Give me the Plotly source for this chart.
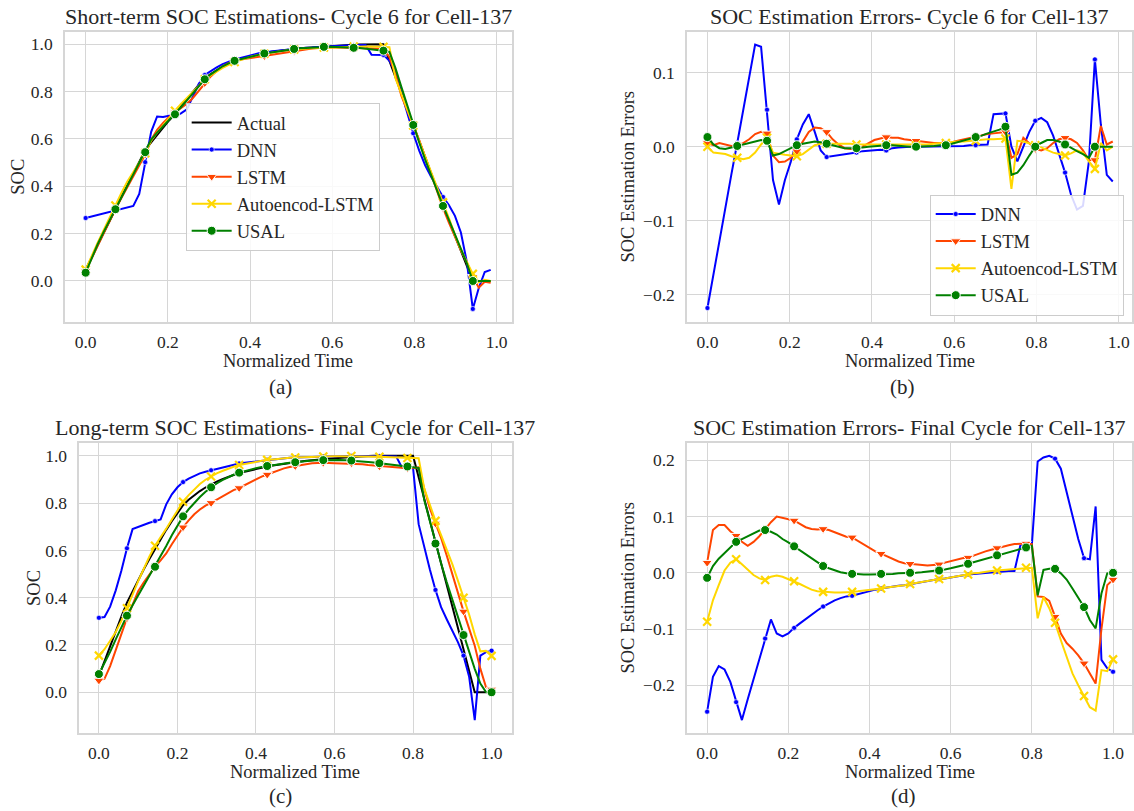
import numpy as np
import plotly.graph_objects as go

# ---------------- Cycle 6, Cell-137 (69 samples) ----------------
soc_actual_c6 = [
    0.048, 0.100, 0.152, 0.203, 0.254, 0.304, 0.355, 0.405, 0.455, 0.503,
    0.552, 0.585, 0.617, 0.648, 0.678, 0.706, 0.738, 0.769, 0.799, 0.828,
    0.856, 0.874, 0.890, 0.905, 0.917, 0.928, 0.936, 0.944, 0.951, 0.957,
    0.963, 0.967, 0.971, 0.974, 0.977, 0.980, 0.983, 0.985, 0.987, 0.989,
    0.991, 0.993, 0.994, 0.996, 0.997, 0.998, 0.999, 1.000, 1.000, 1.000,
    1.000, 0.930, 0.865, 0.795, 0.727, 0.659, 0.590, 0.522, 0.455, 0.387,
    0.320, 0.255, 0.190, 0.125, 0.060, 0.000, 0.000, 0.000, 0.000]

# estimation errors (actual - estimate)
err_dnn_c6 = [
    -0.218, -0.172, -0.127, -0.082, -0.038, 0.005, 0.050, 0.095, 0.138, 0.135,
    0.050, -0.045, -0.078, -0.045, -0.020, 0.010, 0.030, 0.044, 0.020, -0.005,
    -0.014, -0.013, -0.012, -0.011, -0.010, -0.008, -0.006, -0.005, -0.004, -0.004,
    -0.005, -0.002, -0.001, 0.000, 0.000, 0.000, 0.000, 0.000, 0.001, 0.000,
    0.000, 0.001, 0.001, 0.001, 0.002, 0.002, 0.002, 0.003, 0.044, 0.045,
    0.045, 0.000, -0.020, 0.000, 0.020, 0.035, 0.039, 0.033, 0.015, -0.010,
    -0.035, -0.065, -0.085, -0.080, -0.020, 0.118, 0.030, -0.038, -0.047]
err_lstm_c6 = [
    0.005, 0.002, 0.005, 0.003, 0.001, 0.002, 0.005, 0.010, 0.017, 0.020,
    0.018, -0.012, -0.021, -0.020, -0.015, -0.006, 0.008, 0.020, 0.026, 0.025,
    0.020, 0.010, 0.003, -0.002, -0.003, -0.003, 0.000, 0.005, 0.009, 0.011,
    0.013, 0.012, 0.012, 0.010, 0.009, 0.008, 0.006, 0.005, 0.005, 0.005,
    0.005, 0.006, 0.008, 0.010, 0.012, 0.013, 0.015, 0.017, 0.018, 0.019,
    0.020, -0.015, -0.010, 0.012, 0.005, -0.003, -0.005, -0.002, 0.005, 0.010,
    0.012, 0.010, 0.005, -0.005, -0.018, -0.018, 0.028, 0.003, 0.007]
err_ae_c6 = [
    0.000, -0.008, -0.009, -0.010, -0.013, -0.015, -0.017, -0.015, -0.008, 0.003,
    0.012, -0.008, -0.010, -0.011, -0.012, -0.013, -0.010, -0.004, 0.002, 0.004,
    0.004, 0.005, 0.005, 0.005, 0.004, 0.003, 0.003, 0.002, 0.002, 0.002,
    0.003, 0.003, 0.002, 0.002, 0.002, 0.002, 0.002, 0.003, 0.004, 0.005,
    0.005, 0.006, 0.007, 0.007, 0.008, 0.008, 0.009, 0.010, 0.010, 0.011,
    0.011, -0.057, 0.008, 0.007, 0.005, 0.002, -0.001, -0.005, -0.008, -0.010,
    -0.012, -0.009, -0.005, -0.008, -0.020, -0.030, 0.005, -0.005, 0.000]
err_usal_c6 = [
    0.013, 0.003, -0.002, -0.003, -0.001, 0.001, 0.003, 0.005, 0.008, 0.009,
    0.008, -0.012, -0.010, -0.006, -0.002, 0.002, 0.004, 0.006, 0.007, 0.006,
    0.004, 0.001, -0.001, -0.002, -0.002, -0.002, -0.001, 0.000, 0.001, 0.002,
    0.002, 0.002, 0.001, 0.001, 0.000, 0.000, 0.000, 0.001, 0.001, 0.002,
    0.002, 0.004, 0.006, 0.008, 0.010, 0.013, 0.015, 0.018, 0.020, 0.023,
    0.027, -0.038, -0.035, -0.025, -0.012, 0.000, 0.005, 0.009, 0.009, 0.007,
    0.003, -0.002, -0.006, -0.010, -0.015, 0.000, 0.000, 0.000, 0.000]

# ---------------- Final cycle, Cell-137 (71 samples) ----------------
soc_actual_fin = [
    0.068, 0.133, 0.196, 0.259, 0.320, 0.379, 0.428, 0.475, 0.520, 0.564,
    0.607, 0.648, 0.687, 0.724, 0.759, 0.791, 0.814, 0.834, 0.851, 0.866,
    0.879, 0.891, 0.901, 0.911, 0.919, 0.927, 0.933, 0.939, 0.945, 0.950,
    0.955, 0.959, 0.963, 0.967, 0.970, 0.973, 0.976, 0.979, 0.982, 0.984,
    0.986, 0.988, 0.990, 0.992, 0.994, 0.996, 0.997, 0.998, 0.999, 1.000,
    1.000, 1.000, 1.000, 1.000, 1.000, 1.000, 1.000, 0.909, 0.818, 0.727,
    0.636, 0.545, 0.454, 0.363, 0.272, 0.181, 0.090, 0.000, 0.000, 0.000,
    0.000]
err_dnn_fin = [
    -0.247, -0.185, -0.166, -0.172, -0.194, -0.230, -0.262, -0.225, -0.190, -0.153,
    -0.117, -0.083, -0.108, -0.113, -0.108, -0.098, -0.090, -0.082, -0.075, -0.067,
    -0.060, -0.054, -0.049, -0.045, -0.042, -0.041, -0.038, -0.035, -0.032, -0.030,
    -0.028, -0.026, -0.025, -0.023, -0.022, -0.020, -0.018, -0.016, -0.014, -0.013,
    -0.011, -0.010, -0.008, -0.007, -0.005, -0.003, -0.002, -0.001, 0.000, 0.001,
    0.002, 0.002, 0.003, 0.003, 0.048, 0.050, 0.050, 0.198, 0.205, 0.208,
    0.203, 0.185, 0.145, 0.100, 0.060, 0.026, 0.024, 0.118, -0.155, -0.170,
    -0.176]
err_lstm_fin = [
    0.018, 0.076, 0.085, 0.085, 0.074, 0.066, 0.055, 0.048, 0.055, 0.065,
    0.077, 0.090, 0.100, 0.098, 0.095, 0.093, 0.087, 0.081, 0.078, 0.077,
    0.078, 0.076, 0.072, 0.068, 0.064, 0.063, 0.057, 0.050, 0.044, 0.038,
    0.034, 0.029, 0.024, 0.020, 0.017, 0.016, 0.014, 0.013, 0.013, 0.014,
    0.015, 0.018, 0.021, 0.024, 0.026, 0.027, 0.031, 0.034, 0.038, 0.041,
    0.044, 0.047, 0.049, 0.051, 0.052, 0.052, 0.051, -0.042, -0.043, -0.050,
    -0.078, -0.108, -0.125, -0.135, -0.147, -0.161, -0.179, -0.197, -0.100, -0.022,
    -0.012]
err_ae_fin = [
    -0.087, -0.049, -0.022, 0.004, 0.018, 0.024, 0.015, 0.005, -0.004, -0.010,
    -0.013, -0.007, -0.005, -0.007, -0.011, -0.015, -0.020, -0.025, -0.030, -0.033,
    -0.034, -0.035, -0.035, -0.035, -0.035, -0.034, -0.033, -0.032, -0.031, -0.029,
    -0.028, -0.026, -0.025, -0.023, -0.022, -0.020, -0.018, -0.017, -0.015, -0.013,
    -0.011, -0.010, -0.008, -0.006, -0.004, -0.003, -0.001, 0.000, 0.002, 0.003,
    0.004, 0.005, 0.006, 0.007, 0.008, 0.009, 0.009, -0.081, -0.043, -0.063,
    -0.089, -0.120, -0.150, -0.179, -0.200, -0.219, -0.239, -0.245, -0.173, -0.175,
    -0.154]
err_usal_fin = [
    -0.009, 0.012, 0.025, 0.035, 0.045, 0.055, 0.060, 0.065, 0.070, 0.075,
    0.076, 0.073, 0.068, 0.060, 0.054, 0.047, 0.040, 0.032, 0.025, 0.018,
    0.012, 0.008, 0.004, 0.001, -0.001, -0.002, -0.003, -0.003, -0.003, -0.003,
    -0.002, -0.002, -0.002, -0.001, -0.001, 0.000, 0.000, 0.001, 0.002, 0.003,
    0.004, 0.006, 0.008, 0.010, 0.013, 0.016, 0.019, 0.022, 0.025, 0.028,
    0.031, 0.034, 0.037, 0.040, 0.042, 0.045, 0.048, -0.040, 0.005, 0.007,
    0.007, -0.001, -0.012, -0.028, -0.045, -0.061, -0.084, -0.099, -0.037, -0.001,
    0.000]

model_names = ["DNN", "LSTM", "Autoencod-LSTM", "USAL"]
axis_ticks = [0.0, 0.2, 0.4, 0.6, 0.8, 1.0]
soc_ticks = [0.0, 0.2, 0.4, 0.6, 0.8, 1.0]
err_ticks_c6 = [-0.2, -0.1, 0.0, 0.1]
err_ticks_fin = [-0.2, -0.1, 0.0, 0.1, 0.2]

# normalized time grids
time_c6 = np.arange(len(soc_actual_c6)) / len(soc_actual_c6)
time_fin = np.arange(len(soc_actual_fin)) / (len(soc_actual_fin) - 1)

errs_c6 = [err_dnn_c6, err_lstm_c6, err_ae_c6, err_usal_c6]
errs_fin = [err_dnn_fin, err_lstm_fin, err_ae_fin, err_usal_fin]

FONT = "Liberation Serif, Times New Roman, serif"
INK = "#262626"
GRID = "#d6d6d6"
W, H = 1134, 811
MARK_EVERY = 5

STYLE = {
    "DNN": dict(color="#0000ff", symbol="circle", size=5, lw=0.6),
    "LSTM": dict(color="#ff4500", symbol="triangle-down", size=9, lw=1),
    "Autoencod-LSTM": dict(color="#ffd700", symbol="x-thin-open", size=8, lw=2.2),
    "USAL": dict(color="#008000", symbol="circle", size=9, lw=1),
}


def fx(p):
    return p / W


def fy(p):
    return 1 - p / H


fig = go.Figure()


def marker_dict(name):
    s = STYLE[name]
    if s["symbol"].endswith("open"):
        return dict(symbol=s["symbol"], size=s["size"], color=s["color"],
                    line=dict(color=s["color"], width=s["lw"]))
    return dict(symbol=s["symbol"], size=s["size"], color=s["color"],
                line=dict(color="white", width=s["lw"]))


def add_panel(t, actual, errs, xa, ya, show_estimates, legend_name):
    t = np.asarray(t)
    act = np.asarray(actual)
    if show_estimates:
        fig.add_trace(go.Scatter(x=t, y=act, mode="lines", xaxis=xa, yaxis=ya,
                                 line=dict(color="black", width=2),
                                 showlegend=False, hoverinfo="skip"))
        if legend_name:
            fig.add_trace(go.Scatter(x=[None], y=[None], mode="lines", name="Actual",
                                     xaxis=xa, yaxis=ya, legend=legend_name,
                                     line=dict(color="black", width=2)))
    for name, e in zip(model_names, errs):
        e = np.asarray(e)
        vals = act - e if show_estimates else e
        col = STYLE[name]["color"]
        fig.add_trace(go.Scatter(x=t, y=vals, mode="lines", xaxis=xa, yaxis=ya,
                                 line=dict(color=col, width=2),
                                 showlegend=False, hoverinfo="skip"))
        fig.add_trace(go.Scatter(x=t[::MARK_EVERY], y=vals[::MARK_EVERY], mode="markers",
                                 xaxis=xa, yaxis=ya, marker=marker_dict(name),
                                 showlegend=False, hoverinfo="skip"))
        if legend_name:
            fig.add_trace(go.Scatter(x=[None], y=[None], mode="lines+markers", name=name,
                                     xaxis=xa, yaxis=ya, legend=legend_name,
                                     line=dict(color=col, width=2),
                                     marker=marker_dict(name)))


add_panel(time_c6, soc_actual_c6, errs_c6, "x", "y", True, "legend")
add_panel(time_c6, soc_actual_c6, errs_c6, "x2", "y2", False, "legend2")
add_panel(time_fin, soc_actual_fin, errs_fin, "x3", "y3", True, None)
add_panel(time_fin, soc_actual_fin, errs_fin, "x4", "y4", False, None)


def ax_common(**kw):
    d = dict(showgrid=True, gridcolor=GRID, gridwidth=1, showline=True,
             linecolor=GRID, linewidth=1.5, mirror=True, zeroline=False,
             tickformat=".1f", tickmode="array",
             ticks="outside", tickcolor="rgba(0,0,0,0)",
             tickfont=dict(family=FONT, size=17.5, color=INK))
    d.update(kw)
    return d


top_y = [fy(321.7), fy(31.7)]
bot_y = [fy(732.7), fy(442.6)]

fig.update_layout(
    width=W, height=H, margin=dict(l=0, r=0, t=0, b=0),
    paper_bgcolor="white", plot_bgcolor="white",
    font=dict(family=FONT, color=INK),
    xaxis=ax_common(domain=[fx(65), fx(512.5)], range=[-0.0505, 1.0364],
                    tickvals=axis_ticks, ticklen=4, anchor="y"),
    yaxis=ax_common(domain=top_y, range=[-0.172, 1.053], tickvals=soc_ticks,
                    ticklen=7, anchor="x"),
    xaxis2=ax_common(domain=[fx(688.3), 1.0], range=[-0.0495, 1.0323],
                     tickvals=axis_ticks, ticklen=4, anchor="y2"),
    yaxis2=ax_common(domain=top_y, range=[-0.2365, 0.1554], tickvals=err_ticks_c6,
                     ticklen=7, anchor="x2"),
    xaxis3=ax_common(domain=[fx(79.5), fx(512.5)], range=[-0.0498, 1.051],
                     tickvals=axis_ticks, ticklen=4, anchor="y3"),
    yaxis3=ax_common(domain=bot_y, range=[-0.171, 1.056], tickvals=soc_ticks,
                     ticklen=7, anchor="x3"),
    xaxis4=ax_common(domain=[fx(688.3), 1.0], range=[-0.0494, 1.0467],
                     tickvals=axis_ticks, ticklen=4, anchor="y4"),
    yaxis4=ax_common(domain=bot_y, range=[-0.2844, 0.2315], tickvals=err_ticks_fin,
                     ticklen=7, anchor="x4"),
    legend=dict(x=fx(186), y=fy(103), xanchor="left", yanchor="top",
                bgcolor="rgba(255,255,255,0.85)", bordercolor="#cccccc", borderwidth=1,
                font=dict(family=FONT, size=18.5, color=INK), itemwidth=40,
                tracegroupgap=0),
    legend2=dict(x=fx(1125.7), y=fy(315.5), xanchor="right", yanchor="bottom",
                 bgcolor="rgba(255,255,255,0.85)", bordercolor="#cccccc", borderwidth=1,
                 font=dict(family=FONT, size=18.5, color=INK), itemwidth=40,
                 tracegroupgap=0),
)

texts = [
    # titles
    ("Short-term SOC Estimations- Cycle 6 for Cell-137", 288.7, 16, 22, 0),
    ("SOC Estimation Errors- Cycle 6 for Cell-137", 911, 16, 22, 0),
    ("Long-term SOC Estimations- Final Cycle for Cell-137", 296, 427, 22, 0),
    ("SOC Estimation Errors- Final Cycle for Cell-137", 911, 427, 22, 0),
    # x-axis titles
    ("Normalized Time", 288.7, 361, 18.5, 0),
    ("Normalized Time", 911.8, 361, 18.5, 0),
    ("Normalized Time", 296, 771.7, 18.5, 0),
    ("Normalized Time", 911.8, 771.7, 18.5, 0),
    # y-axis titles
    ("SOC", 18, 176.7, 18.5, -90),
    ("SOC Estimation Errors", 629, 176.7, 18.5, -90),
    ("SOC", 33.3, 587.7, 18.5, -90),
    ("SOC Estimation Errors", 629, 587.7, 18.5, -90),
    # panel letters
    ("(a)", 281, 386.7, 21, 0),
    ("(b)", 904, 386.7, 21, 0),
    ("(c)", 281, 796, 21, 0),
    ("(d)", 904.6, 796, 21, 0),
]
for txt, px, py, size, ang in texts:
    fig.add_annotation(text=txt, x=fx(px), y=fy(py), xref="paper", yref="paper",
                       xanchor="center", yanchor="middle", showarrow=False,
                       textangle=ang, font=dict(family=FONT, size=size, color=INK))

fig.write_html("out.html")
